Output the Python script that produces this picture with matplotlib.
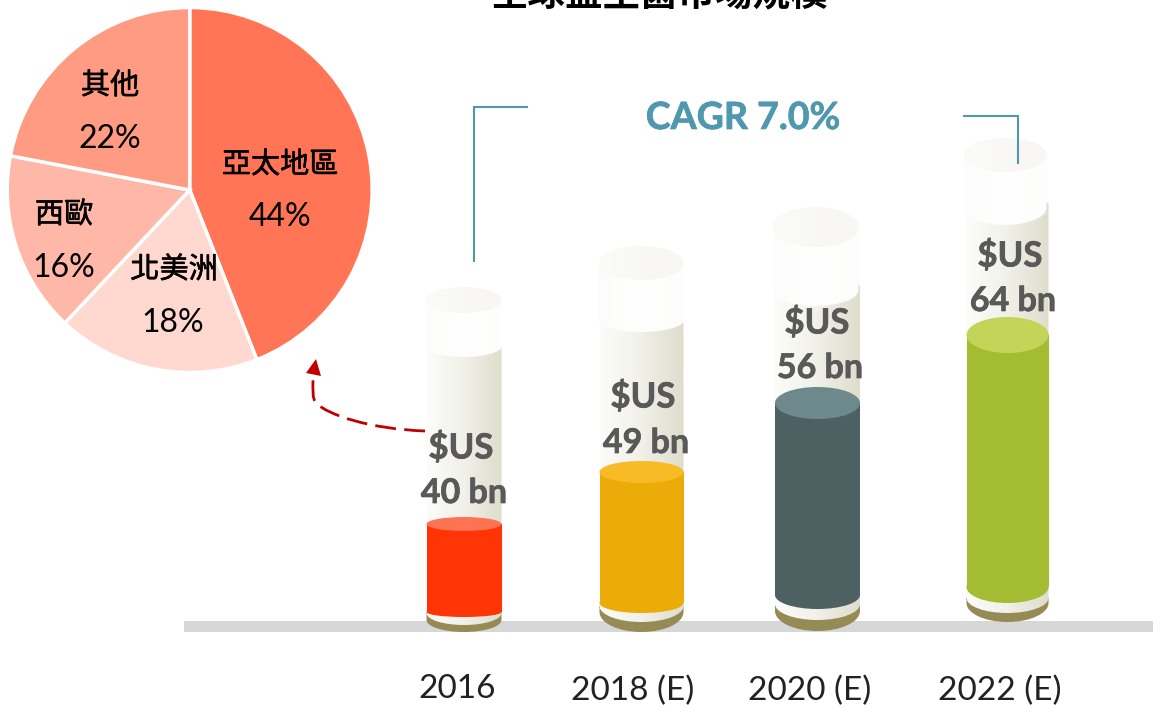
import matplotlib
matplotlib.use("Agg")
import matplotlib.pyplot as plt
import numpy as np
from matplotlib.patches import Ellipse, Rectangle, PathPatch, Polygon
from matplotlib.path import Path
from matplotlib.colors import LinearSegmentedColormap
import matplotlib.patheffects as pe

CJK = ['Noto Sans CJK TC', 'DejaVu Sans']
LAT = ['Lato', 'DejaVu Sans']

title = "全球益生菌市場規模"
years = ["2016", "2018 (E)", "2020 (E)", "2022 (E)"]
values = [40, 49, 56, 64]
value_prefix = "$US"
cagr = "CAGR 7.0%"
regions = ["亞太地區", "北美洲", "西歐", "其他"]
shares = [44, 18, 16, 22]

# level of each tube's fill as drawn in the picture (page pixels)
fill_top = [524, 472, 403, 335]
fill_bot = [612, 603, 595, 587]

# tube layout (page pixels)
cx = [464, 641.5, 817.5, 1007.5]
half_w = [37.5, 42, 42.5, 41]
cap_cx = [464, 641.5, 815.5, 1005]
cap_top = [300, 263, 227, 155]
cap_ry = [13, 17, 20, 17]
cap_bot = [346, 320, 290, 208]
cap_low_ry = [11, 12, 16, 17]
fill_ry = [7, 11, 16, 18]
fill_low_ry = [5, 10, 14, 16]
base_y = [620, 612, 611, 603]
base_ry = [12, 20, 20, 19]
glass_y = [613, 606, 604, 598]
glass_ry = [12, 16, 16, 15]

fill_cols = ["#FF3505", "#EBAC0A", "#4D6163", "#A3BC31"]
top_cols = ["#FF7355", "#F9BB25", "#6E898C", "#C3D558"]

fig = plt.figure(figsize=(11.53, 7.05), dpi=100)
ax = fig.add_axes([0, 0, 1, 1])
ax.set_xlim(0, 1153)
ax.set_ylim(705, 0)
ax.axis("off")

ax.add_patch(Rectangle((184, 621), 969, 11, fc="#D7D7D7", ec="none", zorder=1))

GLASS = np.linspace(0, 1, 128)[None, :]
cm_body = LinearSegmentedColormap.from_list("b", ["#FCFCF9", "#F1F0E9", "#DFDDCC"])
cm_cap = LinearSegmentedColormap.from_list("c", ["#FCFCFA", "#FFFFFF", "#FDFDFB"])
cm_lid = LinearSegmentedColormap.from_list("l", ["#FBFBF8", "#F9F8F4", "#F8F7F3"])


def grad(x0, x1, y0, y1, cmap, clip, z):
    im = ax.imshow(GLASS, extent=[x0, x1, y1, y0], cmap=cmap, aspect="auto", zorder=z, vmin=0, vmax=1)
    clip.set_transform(ax.transData)
    im.set_clip_path(clip)
    ax.set_xlim(0, 1153)
    ax.set_ylim(705, 0)


def tube_outline(x, w, yt, yb, ry_low):
    """region with a flat top and an elliptical bottom edge"""
    k = 0.5523
    verts = [(x - w, yt), (x + w, yt), (x + w, yb),
             (x + w, yb + k * ry_low), (x + k * w, yb + ry_low), (x, yb + ry_low),
             (x - k * w, yb + ry_low), (x - w, yb + k * ry_low), (x - w, yb),
             (x - w, yt)]
    codes = [Path.MOVETO, Path.LINETO, Path.LINETO,
             Path.CURVE4, Path.CURVE4, Path.CURVE4,
             Path.CURVE4, Path.CURVE4, Path.CURVE4, Path.CLOSEPOLY]
    return Path(verts, codes)


for i in range(4):
    x, w = cx[i], half_w[i]
    # olive base
    ax.add_patch(PathPatch(tube_outline(x, w, glass_y[i], base_y[i], base_ry[i]),
                           fc="#968B55", ec="none", zorder=2))
    # glass body, starting just under the cap
    body_top = cap_bot[i] - 5
    grad(x - w, x + w, body_top, glass_y[i] + glass_ry[i],
         cm_body,
         PathPatch(tube_outline(x, w, body_top, glass_y[i], glass_ry[i])), 3)
    # liquid
    ax.bar(x, fill_bot[i] - fill_top[i], bottom=fill_top[i], width=2 * w,
           color=fill_cols[i], zorder=4)
    ax.add_patch(Ellipse((x, fill_bot[i]), 2 * w, 2 * fill_low_ry[i], fc=fill_cols[i], ec="none", zorder=4))
    ax.add_patch(Ellipse((x, fill_top[i]), 2 * w, 2 * fill_ry[i], fc=top_cols[i], ec="none", zorder=5))
    # cap
    cw = w + 0.5
    grad(cap_cx[i] - cw, cap_cx[i] + cw, cap_top[i], cap_bot[i] + cap_low_ry[i],
         cm_cap,
         PathPatch(tube_outline(cap_cx[i], cw, cap_top[i], cap_bot[i], cap_low_ry[i])), 6)
    grad(cap_cx[i] - cw, cap_cx[i] + cw, cap_top[i] - cap_ry[i], cap_top[i] + cap_ry[i],
         cm_lid,
         Ellipse((cap_cx[i], cap_top[i]), 2 * cw, 2 * cap_ry[i]), 7)

# value labels
thick = [pe.withStroke(linewidth=0.5, foreground="#595959")]
lab_x = [461, 643, 817, 1010]
lab_y1 = [448, 397, 323, 256]
lab_y2 = [493, 443, 368, 301]
for i in range(4):
    ax.text(lab_x[i], lab_y1[i], value_prefix, ha="center", va="center", family=LAT,
            fontsize=25, fontweight="bold", color="#595959", zorder=10, path_effects=thick)
    ax.text(lab_x[i] + 3, lab_y2[i], f"{values[i]} bn", ha="center", va="center", family=LAT,
            fontsize=24.5, fontweight="bold", color="#595959", zorder=10, path_effects=thick)

# year labels
yr_x = [457, 633, 810, 1000]
yr_y = [689, 691, 691, 691]
for i in range(4):
    ax.text(yr_x[i], yr_y[i], years[i], ha="center", va="center", family=LAT,
            fontsize=24, color="#222222", zorder=10)

# CAGR + brackets
ax.text(743, 118, cagr, ha="center", va="center", family=LAT, fontsize=27,
        fontweight="bold", color="#4F98AE", zorder=10,
        path_effects=[pe.withStroke(linewidth=0.5, foreground="#4F98AE")])
ax.plot([527, 474, 474], [107, 107, 261], color="#4F98AE", lw=1.5, solid_joinstyle="miter", zorder=10)
ax.plot([964, 1018, 1018], [116, 116, 163], color="#4F98AE", lw=1.5, solid_joinstyle="miter", zorder=10)

# title, cut by the top of the page as in the reference
ax.text(659, 6, title, ha="center", va="baseline", family=CJK, fontsize=27,
        fontweight="bold", color="black", zorder=10)

# dashed arrow
arrow = Path([(425, 431), (370, 429), (328, 415), (316, 403), (312, 398), (313, 390), (313, 380)],
             [Path.MOVETO, Path.CURVE4, Path.CURVE4, Path.CURVE4, Path.CURVE4, Path.CURVE4, Path.CURVE4])
ax.add_patch(PathPatch(arrow, fc="none", ec="#C00000", lw=2, ls=(0, (7.5, 3)), zorder=9))
ax.add_patch(Polygon([(316, 359), (306, 373), (321, 376)], fc="#C00000", ec="none", zorder=9))

# pie
R = 182.5
CX, CY = 189.7, 190
pad = 3
pax = fig.add_axes([(CX - R - pad) / 1153, 1 - (CY + R + pad) / 705, (2 * R + 2 * pad) / 1153, (2 * R + 2 * pad) / 705])
pie_cols = ["#FF7556", "#FFD8D0", "#FFB8A8", "#FF9A83"]
pax.pie(shares, colors=pie_cols, startangle=90, counterclock=False, radius=1,
        wedgeprops=dict(edgecolor="white", linewidth=2.5))
pax.set_xlim(-(R + pad) / R, (R + pad) / R)
pax.set_ylim(-(R + pad) / R, (R + pad) / R)

reg_xy = [(280, 165), (174, 270), (64, 215), (110, 86)]
pct_xy = [(280, 217), (173, 323), (64, 268), (110, 139)]
for (xy, pxy, r, s) in zip(reg_xy, pct_xy, regions, shares):
    ax.text(*xy, r, ha="center", va="center", family=CJK, fontsize=21, fontweight="medium",
            color="black", zorder=20,
            path_effects=[pe.withStroke(linewidth=0.4, foreground="black")])
    ax.text(*pxy, f"{s}%", ha="center", va="center", family=LAT, fontsize=23,
            color="black", zorder=20)
ax.set_zorder(5)
ax.patch.set_alpha(0)
fig.savefig("out.png", dpi=100)
